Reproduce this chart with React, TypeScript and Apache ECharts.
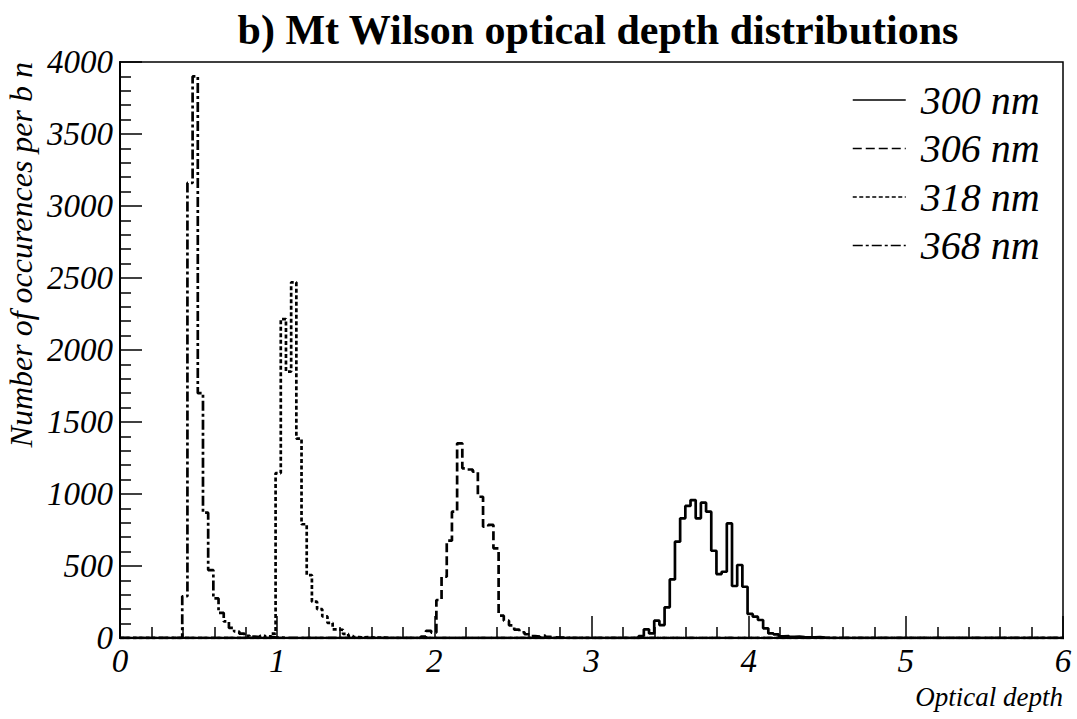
import React, { useEffect, useRef } from "react";
import * as echarts from "echarts";

// Histogram binning (optical depth)
const BIN_WIDTH = 0.033;
const N_BINS = 182;

// Axis settings
const X_MIN = 0;
const X_MAX = 6;
const X_INTERVAL = 1;
const Y_MIN = 0;
const Y_MAX = 4000;
const Y_INTERVAL = 500;

const seriesNames = ["300 nm", "306 nm", "318 nm", "368 nm"];

// 300 nm — first non-empty bin index and counts per bin
const start300 = 100;
const counts300 = [
  14, 60, 32, 120, 90, 213, 407, 669, 831, 917, 958, 831, 940, 877, 606, 444,
  460, 796, 361, 507, 356, 167, 148, 125, 67, 32, 25, 12, 14, 8, 10, 6, 5, 4, 6, 2,
];

// 306 nm
const start306 = 58;
const counts306 = [
  10, 50, 38, 264, 426, 676, 877, 1352, 1178, 1170, 1155, 981, 773, 785, 623,
  155, 120, 88, 58, 40, 26, 14, 10, 16, 8, 4, 2, 3,
];

// 318 nm
const start318 = 29;
const counts318 = [
  30, 1145, 2215, 1850, 2470, 1385, 790, 437, 252, 200, 150, 105, 60, 56, 28,
  14, 6, 4, 6, 2, 2, 3,
];

// 368 nm
const start368 = 12;
const counts368 = [
  290, 3160, 3900, 1700, 870, 472, 275, 175, 115, 70, 45, 30, 15, 10, 6, 15, 8,
  4, 3,
];

const FONT = "Liberation Serif";

function buildHist(start: number, counts: number[]) {
  const pts: [number, number][] = [];
  for (let k = 0; k < N_BINS; k++) {
    const i = k - start;
    const v = i >= 0 && i < counts.length ? counts[i] : 0;
    pts.push([+(k * BIN_WIDTH).toFixed(4), v]);
  }
  pts.push([+(N_BINS * BIN_WIDTH).toFixed(4), 0]);
  return pts;
}

export default function App() {
  const ref = useRef<HTMLDivElement>(null);

  useEffect(() => {
    if (!ref.current) return;
    const chart = echarts.init(ref.current, null, { renderer: "svg" });

    const histSeries = [
      { name: seriesNames[0], data: buildHist(start300, counts300), dash: "solid" as any },
      { name: seriesNames[1], data: buildHist(start306, counts306), dash: [9, 4] },
      { name: seriesNames[2], data: buildHist(start318, counts318), dash: [4, 2.5] },
      { name: seriesNames[3], data: buildHist(start368, counts368), dash: [10, 3, 3, 3] },
    ];

    const labelStyle = {
      fontFamily: FONT,
      fontStyle: "italic",
      fontSize: 33,
      color: "#000",
    };

    chart.setOption({
      animation: false,
      backgroundColor: "#ffffff",
      textStyle: { fontFamily: FONT },
      title: {
        text: "b) Mt Wilson optical depth distributions",
        left: 593,
        top: 4,
        textAlign: "center",
        textStyle: {
          fontFamily: FONT,
          fontWeight: "bold",
          fontSize: 42,
          color: "#000",
        },
      },
      legend: {
        orient: "vertical",
        left: 852,
        top: 80,
        padding: 0,
        itemWidth: 53,
        itemHeight: 14,
        itemGap: 8.5,
        data: seriesNames,
        selectedMode: false,
        lineStyle: { width: 1.5 },
        itemStyle: { opacity: 0 },
        textStyle: {
          fontFamily: FONT,
          fontStyle: "italic",
          fontSize: 40,
          lineHeight: 37,
          color: "#000",
          padding: [0, 0, 0, 10],
        },
      },
      grid: {
        left: 120,
        right: 14,
        top: 62,
        bottom: 81,
        show: true,
        borderColor: "#000",
        borderWidth: 1.5,
        backgroundColor: "transparent",
      },
      xAxis: {
        type: "value",
        min: X_MIN,
        max: X_MAX,
        interval: X_INTERVAL,
        axisLine: { show: true, onZero: false, lineStyle: { color: "#000", width: 2 } },
        axisTick: { show: true, inside: true, length: 22, lineStyle: { color: "#000", width: 1.5 } },
        minorTick: { show: true, splitNumber: 5, length: 11, lineStyle: { color: "#000", width: 1.5 } },
        splitLine: { show: false },
        axisLabel: {
          ...labelStyle,
          margin: 6,
          showMinLabel: true,
          showMaxLabel: true,
          formatter: (v: number) => String(v),
        },
      },
      yAxis: {
        type: "value",
        min: Y_MIN,
        max: Y_MAX,
        interval: Y_INTERVAL,
        axisLine: { show: true, lineStyle: { color: "#000", width: 2 } },
        axisTick: { show: true, inside: true, length: 22, lineStyle: { color: "#000", width: 1.5 } },
        minorTick: { show: true, splitNumber: 5, length: 11, lineStyle: { color: "#000", width: 1.5 } },
        splitLine: { show: false },
        axisLabel: {
          ...labelStyle,
          margin: 7,
          showMinLabel: true,
          showMaxLabel: true,
          formatter: (v: number) => String(v),
        },
      },
      graphic: [
        {
          type: "text",
          x: 21,
          y: 62,
          rotation: Math.PI / 2,
          style: {
            text: "Number of occurences per b n",
            fontFamily: FONT,
            fontStyle: "italic",
            fontSize: 32,
            fill: "#000",
            align: "right",
            verticalAlign: "middle",
          },
        },
        {
          type: "text",
          x: 1063,
          y: 697,
          style: {
            text: "Optical depth",
            fontFamily: FONT,
            fontStyle: "italic",
            fontSize: 27,
            fill: "#000",
            align: "right",
            verticalAlign: "middle",
          },
        },
      ],
      series: histSeries.map((s) => ({
        name: s.name,
        type: "line",
        step: "end",
        symbol: "none",
        clip: true,
        data: s.data,
        color: "#000",
        lineStyle: { color: "#000", width: 2.7, type: s.dash },
      })),
    });

    return () => chart.dispose();
  }, []);

  return (
    <div
      ref={ref}
      style={{ position: "absolute", left: 0, top: 0, width: 1077, height: 719, background: "#fff" }}
    />
  );
}
